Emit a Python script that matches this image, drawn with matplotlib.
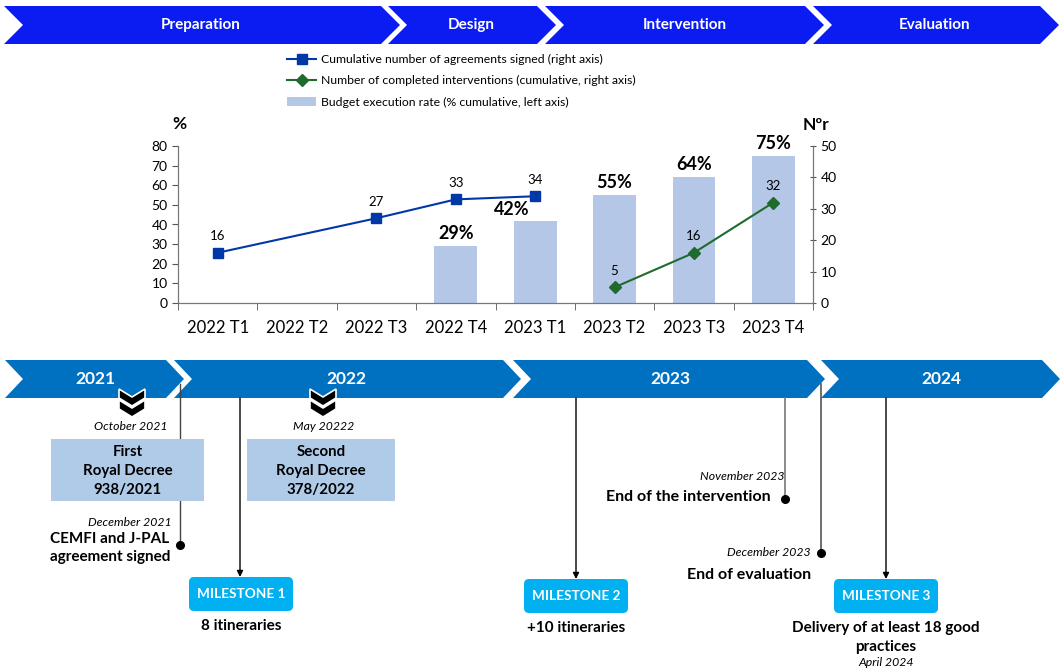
import numpy as np
import matplotlib
matplotlib.use('Agg')
import matplotlib.pyplot as plt
from matplotlib.patches import Polygon, Rectangle, FancyBboxPatch

plt.rcParams['font.family'] = ['Lato', 'DejaVu Sans']

# chart data
quarters = ['2022 T1', '2022 T2', '2022 T3', '2022 T4',
            '2023 T1', '2023 T2', '2023 T3', '2023 T4']
budget_quarters = ['2022 T4', '2023 T1', '2023 T2', '2023 T3', '2023 T4']
budget_rate = [29, 42, 55, 64, 75]
agreement_quarters = ['2022 T1', '2022 T3', '2022 T4', '2023 T1']
agreements = [16, 27, 33, 34]
intervention_quarters = ['2023 T2', '2023 T3', '2023 T4']
interventions = [5, 16, 32]

# banners / timeline text
phases = ['Preparation', 'Design', 'Intervention', 'Evaluation']
years = ['2021', '2022', '2023', '2024']
milestones = ['MILESTONE 1', 'MILESTONE 2', 'MILESTONE 3']
milestone_notes = ['8 itineraries', '+10 itineraries', 'Delivery of at least 18 good\npractices']

W, H = 1060, 670
fig = plt.figure(figsize=(W / 100, H / 100), dpi=100)

# overlay axes in pixel coordinates for the drawing parts
ov = fig.add_axes([0, 0, 1, 1])
ov.set_xlim(0, W)
ov.set_ylim(H, 0)
ov.axis('off')


def chevron(x0, x1, y0, y1, d, color):
    ym = (y0 + y1) / 2
    pts = [(x0, y0), (x1, y0), (x1 + d, ym), (x1, y1), (x0, y1), (x0 + d, ym)]
    ov.add_patch(Polygon(pts, closed=True, facecolor=color, edgecolor='none'))


# top phase banner
phase_spans = [(4, 381), (388, 537), (545, 805), (813, 1040)]
phase_x = [201, 471, 685, 935]
for (a, b), name, cx in zip(phase_spans, phases, phase_x):
    chevron(a, b, 6, 44, 19, '#0B1CF2')
    ov.text(cx, 25, name, color='white', fontsize=11, fontweight='bold',
            ha='center', va='center')

# year timeline
year_spans = [(5, 166), (174, 503), (513, 807), (821, 1042)]
year_x = [95, 346, 670, 941]
for (a, b), name, cx in zip(year_spans, years, year_x):
    chevron(a, b, 360, 398, 18, '#0070C0')
    ov.text(cx, 379, name, color='white', fontsize=12.5, fontweight='bold',
            ha='center', va='center')

# connector lines
line_c = '#444444'
ov.plot([180, 180], [384, 545], color=line_c, lw=1, zorder=1)
ov.plot([785, 785], [398, 499], color='#777777', lw=1.2, zorder=1)
ov.plot([821, 821], [384, 553], color='#555555', lw=1.2, zorder=1)
for x, y in [(180, 545), (785, 499), (821, 553)]:
    ov.plot(x, y, 'o', color='black', ms=5.5, zorder=3)
for x, y_end in [(240, 577), (576, 579), (886, 579)]:
    ov.annotate('', xy=(x, y_end), xytext=(x, 398),
                arrowprops=dict(arrowstyle='-|>', color='black', lw=1,
                                mutation_scale=9, shrinkA=0, shrinkB=0))


def double_chevron(cx, yt):
    for dy in (0, 11):
        y = yt + dy
        pts = [(cx - 13, y), (cx, y + 8), (cx + 13, y), (cx + 13, y + 9),
               (cx, y + 17), (cx - 13, y + 9)]
        ov.add_patch(Polygon(pts, closed=True, facecolor='black',
                             edgecolor='white', lw=1.2, zorder=4))


double_chevron(132, 389)
double_chevron(323, 389)

ov.text(167, 427, 'October 2021', fontsize=8.8, style='italic', ha='right', va='center')
ov.text(324, 427, 'May 20222', fontsize=8.8, style='italic', ha='center', va='center')

# royal decree boxes
for x0, x1, label in [(51, 204, 'First\nRoyal Decree\n938/2021'),
                      (247, 395, 'Second\nRoyal Decree\n378/2022')]:
    ov.add_patch(Rectangle((x0, 439), x1 - x0, 62, facecolor='#AFCBE8',
                           edgecolor='none', zorder=2))
    ov.text((x0 + x1) / 2, 471, label, fontsize=10.8, fontweight='bold',
            ha='center', va='center', linespacing=1.45, zorder=3)

ov.text(172, 522, 'December 2021', fontsize=8.8, style='italic', ha='right', va='center')
ov.text(110, 548, 'CEMFI and J-PAL\nagreement signed', fontsize=11,
        fontweight='bold', ha='center', va='center', linespacing=1.4)

ov.text(785, 476, 'November 2023', fontsize=8.8, style='italic', ha='right', va='center')
ov.text(771, 497, 'End of the intervention', fontsize=11.5, fontweight='bold',
        ha='right', va='center')
ov.text(811, 553, 'December 2023', fontsize=8.8, style='italic', ha='right', va='center')
ov.text(749, 575, 'End of evaluation', fontsize=11.5, fontweight='bold',
        ha='center', va='center')

# milestones
ms_x = [241, 576, 886]
ms_y = [577, 579, 579]
for cx, y, name, note in zip(ms_x, ms_y, milestones, milestone_notes):
    ov.add_patch(FancyBboxPatch((cx - 50, y + 2), 100, 30,
                                boxstyle='round,pad=2,rounding_size=5',
                                facecolor='#00B0F0', edgecolor='none', zorder=2))
    ov.text(cx, y + 17, name, color='white', fontsize=9.8, fontweight='bold',
            ha='center', va='center', zorder=3)
    ov.text(cx, y + 42, note, fontsize=11, fontweight='bold', ha='center',
            va='top', linespacing=1.5)
ov.text(886, 662, 'April 2024', fontsize=8.8, style='italic', ha='center', va='center')

# ---- chart ----
ax = fig.add_axes([178 / W, 1 - 303 / H, (813 - 178) / W, (303 - 146) / H])
ax.patch.set_alpha(0)
ax2 = ax.twinx()

xpos = {q: i for i, q in enumerate(quarters)}
bx = [xpos[q] for q in budget_quarters]
bars = ax.bar(bx, budget_rate, width=0.54, color='#B4C7E7', zorder=1,
              label='Budget execution rate (% cumulative, left axis)')
label_shift = {'2023 T1': (-0.3, -0.5)}
for q, x, v in zip(budget_quarters, bx, budget_rate):
    dx, dy = label_shift.get(q, (0, 0))
    ax.text(x + dx, v + 2 + dy, f'{v}%', ha='center', va='bottom',
            fontsize=13, fontweight='bold')

ax_x = [xpos[q] for q in agreement_quarters]
l1, = ax2.plot(ax_x, agreements, color='#0038A8', marker='s', ms=7, lw=1.5,
               label='Cumulative number of agreements signed (right axis)')
for x, v in zip(ax_x, agreements):
    ax2.text(x, v + 3.3, str(v), ha='center', va='bottom', fontsize=9.5)

ix = [xpos[q] for q in intervention_quarters]
l2, = ax2.plot(ix, interventions, color='#1F6B2E', marker='D', ms=6, lw=1.5,
               label='Number of completed interventions (cumulative, right axis)')
for x, v in zip(ix, interventions):
    ax2.text(x, v + 3.3, str(v), ha='center', va='bottom', fontsize=9.5)

ax.set_xlim(-0.5, len(quarters) - 0.5)
ax.set_ylim(0, 80)
ax2.set_ylim(0, 50)
ax.set_yticks(range(0, 81, 10))
ax2.set_yticks(range(0, 51, 10))
ax.set_xticks(range(len(quarters)))
ax.set_xticklabels(quarters, fontsize=12)
ax.set_xticks(np.arange(-0.5, len(quarters), 1), minor=True)
ax.tick_params(axis='x', which='major', length=0, pad=12)
ax.tick_params(axis='x', which='minor', length=5, color='#555555')
ax.tick_params(axis='y', labelsize=10, length=4, color='#555555')
ax2.tick_params(axis='y', labelsize=10, length=4, color='#555555', direction='inout')
for a in (ax, ax2):
    a.spines['top'].set_visible(False)
    for s in ('left', 'right', 'bottom'):
        a.spines[s].set_color('#777777')

ov.text(179, 124, '%', fontsize=12.5, fontweight='bold', ha='center', va='center')
ov.text(816, 125, 'Nºr', fontsize=12.5, fontweight='bold', ha='center', va='center')

fig.legend(handles=[l1, l2, bars], loc='upper left',
           bbox_to_anchor=(287 / W, 1 - 54 / H), frameon=False, fontsize=8.8,
           handlelength=2.4, handletextpad=0.4, labelspacing=0.85,
           borderpad=0, borderaxespad=0)

fig.savefig('out.png', dpi=100)
